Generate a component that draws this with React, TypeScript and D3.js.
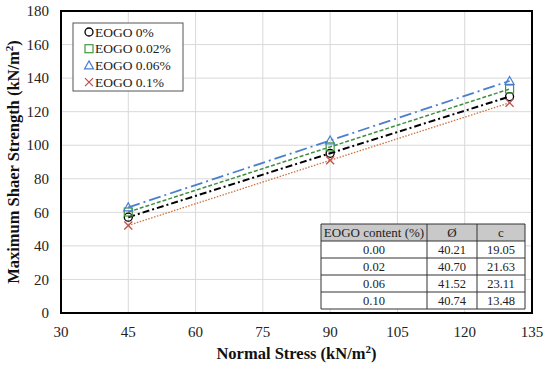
import React from "react";
import * as d3 from "d3";

const xStress = [45, 90, 130];
const seriesNames = ["EOGO 0%", "EOGO 0.02%", "EOGO 0.06%", "EOGO 0.1%"];
const s0 = [57.1, 95.2, 129.0];
const s002 = [60.2, 99.0, 133.5];
const s006 = [63.0, 102.8, 138.3];
const s01 = [52.2, 91.0, 125.3];
const xTicks = [30, 45, 60, 75, 90, 105, 120, 135];
const yTicks = [0, 20, 40, 60, 80, 100, 120, 140, 160, 180];
const tableHeader = ["EOGO content (%)", "\u00D8", "c"];
const tableContent = ["0.00", "0.02", "0.06", "0.10"];
const tablePhi = ["40.21", "40.70", "41.52", "40.74"];
const tableC = ["19.05", "21.63", "23.11", "13.48"];

const W = 550, H = 369;
const M = { left: 61, right: 532, top: 11, bottom: 313 };
const FONT = "Liberation Serif, DejaVu Serif, serif";

export default function App() {
  const x = d3.scaleLinear().domain([30, 135]).range([M.left, M.right]);
  const y = d3.scaleLinear().domain([0, 180]).range([M.bottom, M.top]);
  const line = d3.line<number>().x((_, i) => x(xStress[i])).y((d) => y(d));

  const series = [
    { name: seriesNames[0], data: s0, color: "#000", mColor: "#000", dash: "7,3,2,3", width: 2, marker: "circle" },
    { name: seriesNames[1], data: s002, color: "#3f8f3f", mColor: "#3f9a3f", dash: "4,2", width: 1.5, marker: "square" },
    { name: seriesNames[2], data: s006, color: "#4a7fd0", mColor: "#4a7fd0", dash: "12,4,2,4", width: 1.8, marker: "triangle" },
    { name: seriesNames[3], data: s01, color: "#d0703c", mColor: "#c0504d", dash: "1.5,1.5", width: 1.3, marker: "x" },
  ];

  const marker = (type: string, cx: number, cy: number, color: string, key: string) => {
    const r = 4;
    if (type === "circle") return <circle key={key} cx={cx} cy={cy} r={r} fill="none" stroke={color} strokeWidth={1.3} />;
    if (type === "square") return <rect key={key} x={cx - r} y={cy - r} width={2 * r} height={2 * r} fill="none" stroke={color} strokeWidth={1.2} />;
    if (type === "triangle") return <path key={key} d={`M${cx},${cy - 4.5}L${cx + 4.5},${cy + 3.5}L${cx - 4.5},${cy + 3.5}Z`} fill="none" stroke={color} strokeWidth={1.2} />;
    return <path key={key} d={`M${cx - 4},${cy - 4}L${cx + 4},${cy + 4}M${cx - 4},${cy + 4}L${cx + 4},${cy - 4}`} stroke={color} strokeWidth={1.3} />;
  };

  const tX = [321, 427, 477, 525];
  const tY0 = 224, rowH = 17;

  return (
    <svg width={W} height={H} style={{ position: "absolute", left: 0, top: 0, background: "#fff", fontFamily: FONT }}>
      {xTicks.slice(1, -1).map((t) => (
        <line key={"gx" + t} x1={x(t)} x2={x(t)} y1={M.top} y2={M.bottom} stroke="#d9d9d9" strokeWidth={1} />
      ))}
      {yTicks.slice(1, -1).map((t) => (
        <line key={"gy" + t} x1={M.left} x2={M.right} y1={y(t)} y2={y(t)} stroke="#d9d9d9" strokeWidth={1} />
      ))}
      {series.map((s) => (
        <path key={"l" + s.name} d={line(s.data) || ""} fill="none" stroke={s.color} strokeWidth={s.width} strokeDasharray={s.dash} />
      ))}
      {series.map((s) => s.data.map((v, i) => marker(s.marker, x(xStress[i]), y(v), s.mColor, s.name + i)))}
      <rect x={M.left} y={M.top} width={M.right - M.left} height={M.bottom - M.top} fill="none" stroke="#000" strokeWidth={2} />
      {yTicks.map((t) => (
        <text key={"yt" + t} x={49} y={y(t)} dy="0.35em" textAnchor="end" fontSize={15} fill="#222">{t}</text>
      ))}
      {xTicks.map((t) => (
        <text key={"xt" + t} x={x(t)} y={332} dy="0.35em" textAnchor="middle" fontSize={15} fill="#222">{t}</text>
      ))}
      <text x={(M.left + M.right) / 2} y={359} textAnchor="middle" fontSize={16.5} fontWeight="bold" fill="#111">
        Normal Stress (kN/m<tspan dy={-6} fontSize={11}>2</tspan><tspan dy={6}>)</tspan>
      </text>
      <text transform={`translate(19,${(M.top + M.bottom) / 2}) rotate(-90)`} textAnchor="middle" fontSize={16.5} fontWeight="bold" fill="#111">
        Maximum Shaer Strength (kN/m<tspan dy={-6} fontSize={11}>2</tspan><tspan dy={6}>)</tspan>
      </text>
      <rect x={73} y={23} width={110} height={68} fill="#fff" stroke="#555" strokeWidth={1} />
      {series.map((s, i) => {
        const ly = 32 + i * 16.7;
        return (
          <g key={"lg" + i}>
            {marker(s.marker, 89, ly, s.mColor, "lm" + i)}
            <text x={95} y={ly} dy="0.35em" fontSize={13.5} fill="#222">{s.name}</text>
          </g>
        );
      })}
      <rect x={tX[0]} y={tY0} width={tX[3] - tX[0]} height={rowH} fill="#c9c9c9" />
      <rect x={tX[0]} y={tY0 + rowH} width={tX[3] - tX[0]} height={rowH * 4} fill="#fff" />
      {[0, 1, 2, 3, 4, 5].map((r) => (
        <line key={"tr" + r} x1={tX[0]} x2={tX[3]} y1={tY0 + r * rowH} y2={tY0 + r * rowH} stroke="#333" strokeWidth={1} />
      ))}
      {tX.map((cx, i) => (
        <line key={"tc" + i} x1={cx} x2={cx} y1={tY0} y2={tY0 + 5 * rowH} stroke="#333" strokeWidth={1} />
      ))}
      {tableHeader.map((h, i) => (
        <text key={"th" + i} x={(tX[i] + tX[i + 1]) / 2} y={tY0 + rowH / 2} dy="0.35em" textAnchor="middle" fontSize={13} fill="#222">{h}</text>
      ))}
      {tableContent.map((c, r) => {
        const cy = tY0 + (r + 1.5) * rowH;
        return (
          <g key={"trow" + r}>
            <text x={(tX[0] + tX[1]) / 2} y={cy} dy="0.35em" textAnchor="middle" fontSize={12.5} fill="#222">{c}</text>
            <text x={(tX[1] + tX[2]) / 2} y={cy} dy="0.35em" textAnchor="middle" fontSize={12.5} fill="#222">{tablePhi[r]}</text>
            <text x={(tX[2] + tX[3]) / 2} y={cy} dy="0.35em" textAnchor="middle" fontSize={12.5} fill="#222">{tableC[r]}</text>
          </g>
        );
      })}
    </svg>
  );
}
